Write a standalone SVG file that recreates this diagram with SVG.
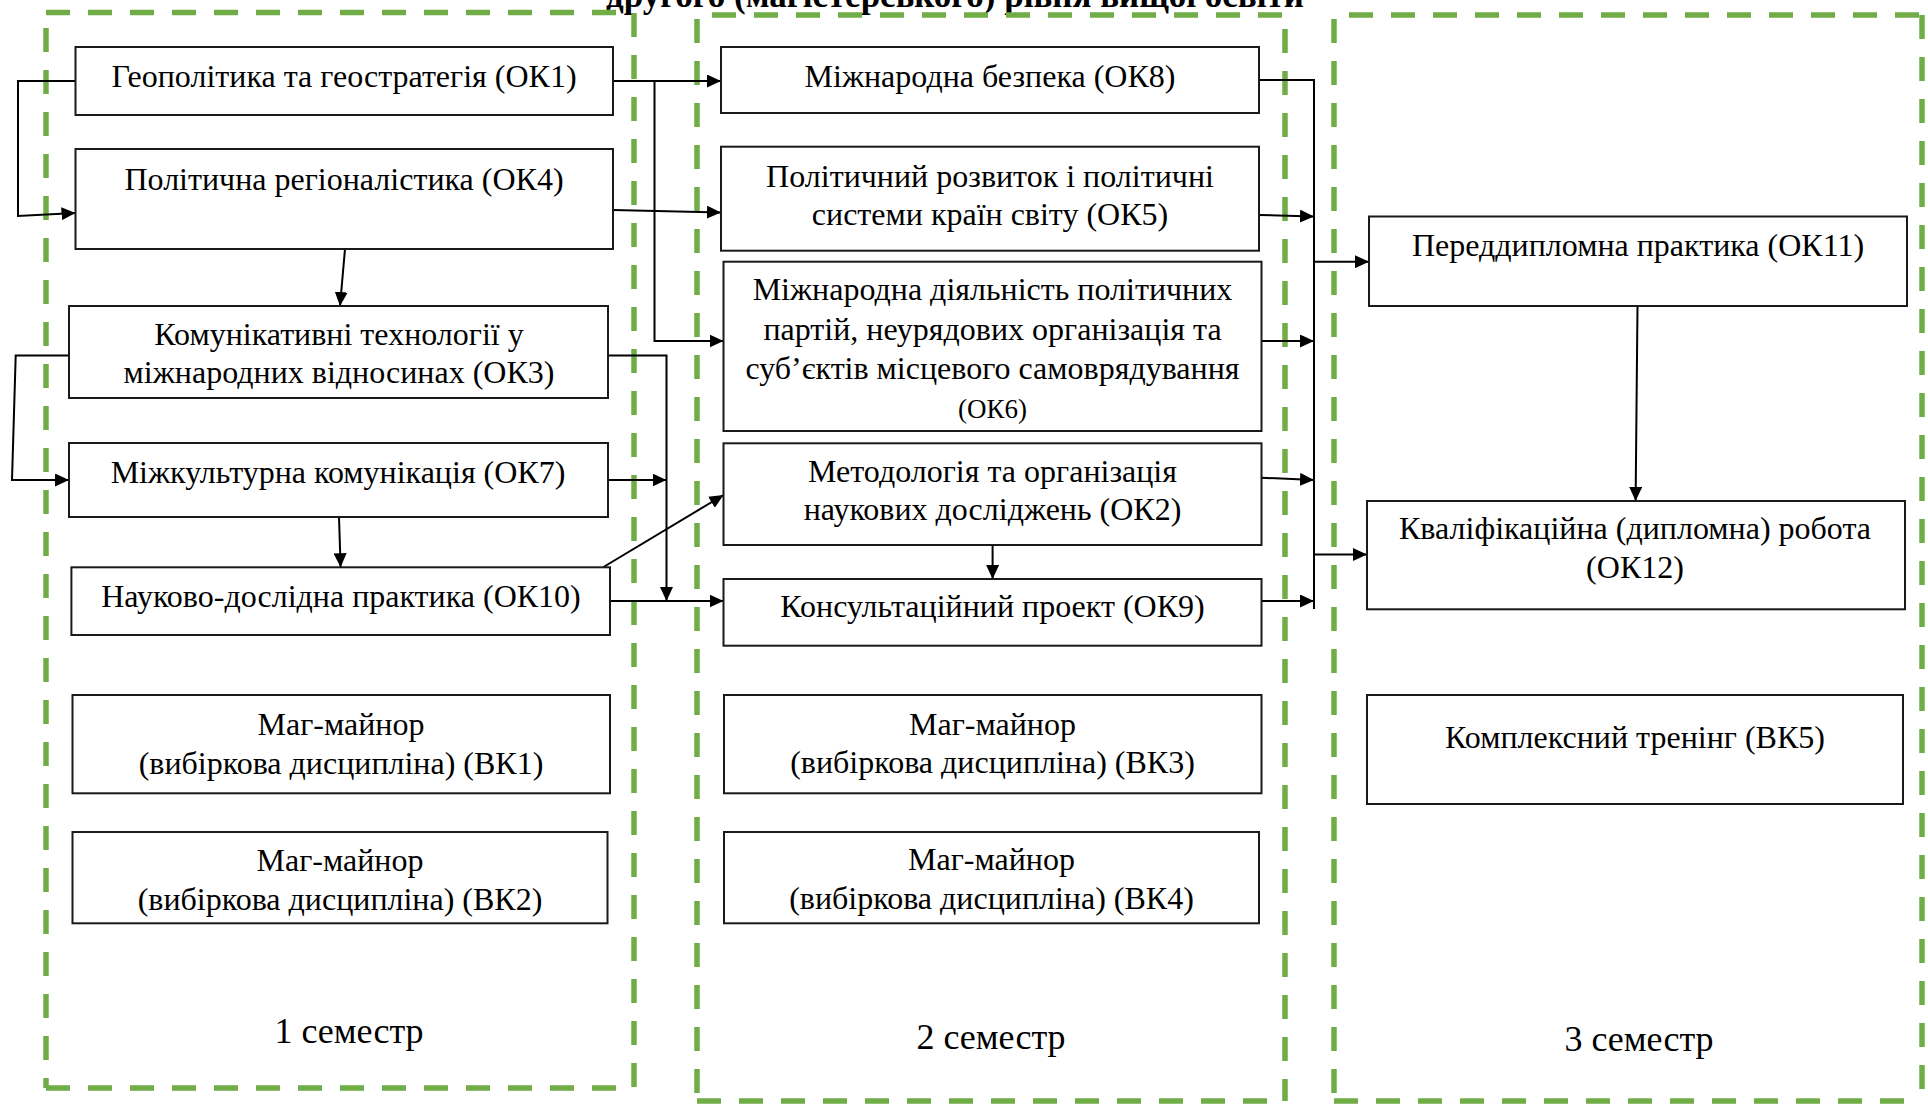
<svg xmlns="http://www.w3.org/2000/svg" width="1928" height="1105" viewBox="0 0 1928 1105">
<style>
.bg{fill:#fff}
.sem{fill:none;stroke:#70AD47;stroke-width:5.5;stroke-dasharray:24 18}
.box{fill:#fff;stroke:#1a1a1a;stroke-width:2}
.t{font-family:"Liberation Serif","Times New Roman",serif;font-size:32px;fill:#000;text-anchor:middle}
.s{font-size:27px}
.lbl{font-family:"Liberation Serif","Times New Roman",serif;font-size:36px;fill:#000;text-anchor:middle}
.title{font-family:"Liberation Serif","Times New Roman",serif;font-size:35px;font-weight:bold;fill:#000}
.c{fill:none;stroke:#000;stroke-width:2}
.a{marker-end:url(#ah)}
</style>
<defs>
<marker id="ah" markerUnits="userSpaceOnUse" markerWidth="14" markerHeight="13" refX="14" refY="6.5" orient="auto">
<path d="M0,0 L14,6.5 L0,13 z" fill="#000"/>
</marker>
</defs>
<rect class="bg" x="0" y="0" width="1928" height="1105"/>
<text class="title" x="606" y="7">другого (магістерського) рівня вищої освіти</text>

<g id="semesters">
<g id="sem1">
<path class="sem" d="M46,12.5 H634"/>
<path class="sem" d="M46,28 V1088"/>
<path class="sem" d="M46,1088 H634"/>
<path class="sem" d="M634,13 V1088"/>
<text class="lbl" x="349" y="1043">1 семестр</text>
</g>
<g id="sem2">
<path class="sem" d="M712,15 H1283"/>
<path class="sem" d="M697,19 V1101"/>
<path class="sem" d="M697,1101 H1285"/>
<path class="sem" d="M1285,29 V1101"/>
<text class="lbl" x="991" y="1049">2 семестр</text>
</g>
<g id="sem3">
<path class="sem" d="M1349,15 H1922"/>
<path class="sem" d="M1334,19 V1101"/>
<path class="sem" d="M1334,1101 H1922"/>
<path class="sem" d="M1922,15 V1101"/>
<text class="lbl" x="1639" y="1051">3 семестр</text>
</g>
</g>

<g id="connectors">
<path class="c a" d="M75.5,81 H18 V216 L75.5,213"/>
<path class="c a" d="M345,249 L340,306"/>
<path class="c a" d="M613,81 H721"/>
<path class="c a" d="M654.5,81 V341 H723.5"/>
<path class="c a" d="M613,210 L721,212.5"/>
<path class="c a" d="M608,355.5 H666.5 V601"/>
<path class="c a" d="M608,480 H666.5"/>
<path class="c a" d="M339,517 L340.6,567.3"/>
<path class="c a" d="M603.5,567 L723.5,495"/>
<path class="c a" d="M610,601 H723.5"/>
<path class="c a" d="M69,355.5 H15.7 L12,480 H69"/>
<path class="c a" d="M992.6,545 V579"/>
<path class="c" d="M1259,80 H1314 V609"/>
<path class="c a" d="M1259,215 L1314,216.5"/>
<path class="c a" d="M1261.5,341 H1314"/>
<path class="c a" d="M1261.5,477.7 L1314,480"/>
<path class="c a" d="M1261.5,601 H1314"/>
<path class="c a" d="M1314,261.7 H1369"/>
<path class="c a" d="M1314,554.5 H1367"/>
<path class="c a" d="M1637.5,306 L1635.6,501"/>
</g>

<g id="OK1"><rect class="box" x="75.5" y="47" width="537.5" height="68"/><text class="t" x="344" y="87">Геополітика та геостратегія (ОК1)</text></g>
<g id="OK4"><rect class="box" x="75.5" y="149" width="537.5" height="100"/><text class="t" x="344" y="190">Політична регіоналістика (ОК4)</text></g>
<g id="OK3"><rect class="box" x="69" y="306" width="539" height="92"/><text class="t" x="339" y="345">Комунікативні технології у</text><text class="t" x="339" y="383">міжнародних відносинах (ОК3)</text></g>
<g id="OK7"><rect class="box" x="69" y="443" width="539" height="74"/><text class="t" x="338" y="483">Міжкультурна комунікація (ОК7)</text></g>
<g id="OK10"><rect class="box" x="71.4" y="567.3" width="538.6" height="67.7"/><text class="t" x="341" y="607">Науково-дослідна практика (ОК10)</text></g>
<g id="VK1"><rect class="box" x="72.5" y="695" width="537.5" height="98.3"/><text class="t" x="341" y="735">Маг-майнор</text><text class="t" x="341" y="774">(вибіркова дисципліна) (ВК1)</text></g>
<g id="VK2"><rect class="box" x="72.5" y="832" width="535" height="91.3"/><text class="t" x="340" y="871">Маг-майнор</text><text class="t" x="340" y="910">(вибіркова дисципліна) (ВК2)</text></g>

<g id="OK8"><rect class="box" x="721" y="47" width="538" height="66"/><text class="t" x="990" y="87">Міжнародна безпека (ОК8)</text></g>
<g id="OK5"><rect class="box" x="721" y="146.7" width="538" height="104"/><text class="t" x="990" y="187">Політичний розвиток і політичні</text><text class="t" x="990" y="225">системи країн світу (ОК5)</text></g>
<g id="OK6"><rect class="box" x="723.5" y="261.7" width="538" height="169.3"/><text class="t" x="992.5" y="300">Міжнародна діяльність політичних</text><text class="t" x="992.5" y="340">партій, неурядових організація та</text><text class="t" x="992.5" y="379">суб’єктів місцевого самоврядування</text><text class="t s" x="992.5" y="418">(ОК6)</text></g>
<g id="OK2"><rect class="box" x="723.5" y="443.3" width="538" height="101.7"/><text class="t" x="992.5" y="482">Методологія та організація</text><text class="t" x="992.5" y="520">наукових досліджень (ОК2)</text></g>
<g id="OK9"><rect class="box" x="723.5" y="579" width="538" height="66.7"/><text class="t" x="992.5" y="617">Консультаційний проект (ОК9)</text></g>
<g id="VK3"><rect class="box" x="724" y="695" width="537.5" height="98.3"/><text class="t" x="992.5" y="735">Маг-майнор</text><text class="t" x="992.5" y="773">(вибіркова дисципліна) (ВК3)</text></g>
<g id="VK4"><rect class="box" x="724" y="832" width="535" height="91.3"/><text class="t" x="991.5" y="870">Маг-майнор</text><text class="t" x="991.5" y="909">(вибіркова дисципліна) (ВК4)</text></g>

<g id="OK11"><rect class="box" x="1369" y="216.5" width="538" height="89.5"/><text class="t" x="1638" y="256">Переддипломна практика (ОК11)</text></g>
<g id="OK12"><rect class="box" x="1367" y="501" width="538" height="108.3"/><text class="t" x="1635" y="539">Кваліфікаційна (дипломна) робота</text><text class="t" x="1635" y="578">(ОК12)</text></g>
<g id="VK5"><rect class="box" x="1367" y="695" width="536" height="109"/><text class="t" x="1635" y="748">Комплексний тренінг (ВК5)</text></g>
</svg>
